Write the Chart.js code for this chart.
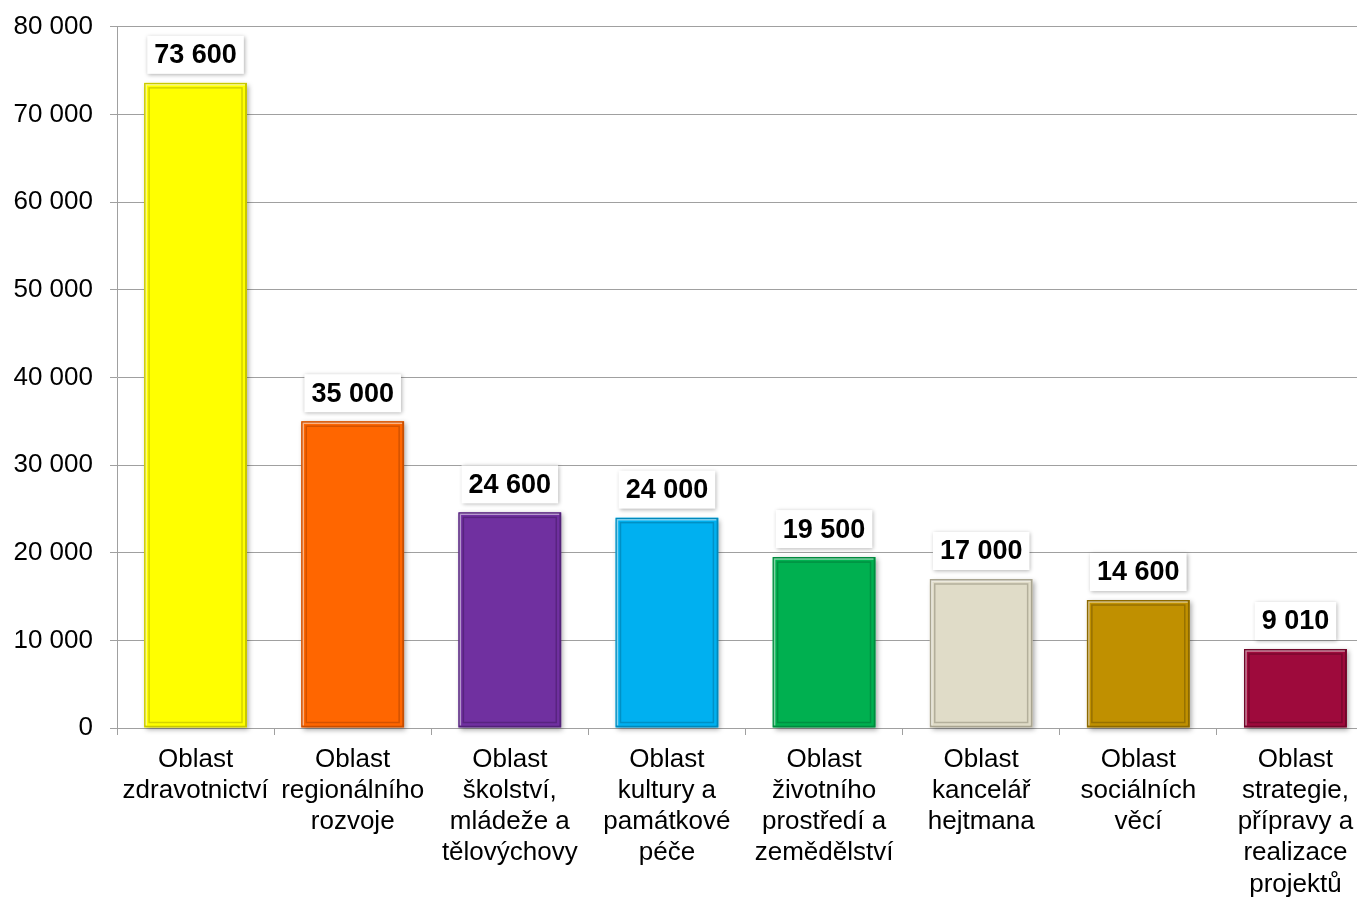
<!DOCTYPE html>
<html lang="cs">
<head>
    <meta charset="UTF-8">
    <title>Oblasti</title>
    <script src="https://cdn.jsdelivr.net/npm/chart.js"></script>
    <style>
        html, body {
            margin: 0;
            padding: 0;
            background: #ffffff;
            overflow: hidden;
        }
        #wrap {
            width: 1380px;
            height: 897px;
        }
    </style>
</head>
<body>
    <div id="wrap">
        <canvas id="chart" width="1380" height="897"></canvas>
    </div>
    <script>
        const categories = [
            ['Oblast', 'zdravotnictví'],
            ['Oblast', 'regionálního', 'rozvoje'],
            ['Oblast', 'školství,', 'mládeže a', 'tělovýchovy'],
            ['Oblast', 'kultury a', 'památkové', 'péče'],
            ['Oblast', 'životního', 'prostředí a', 'zemědělství'],
            ['Oblast', 'kancelář', 'hejtmana'],
            ['Oblast', 'sociálních', 'věcí'],
            ['Oblast', 'strategie,', 'přípravy a', 'realizace', 'projektů']
        ];
        const values = [73600, 35000, 24600, 24000, 19500, 17000, 14600, 9010];
        const barColors = ['#FFFF00', '#FF6600', '#7030A0', '#00B0F0', '#00B050', '#E0DCC8', '#C09000', '#9E0A3C'];
        const edgeColors = ['#C8C800', '#C84E00', '#522278', '#0088BA', '#008A3E', '#A8A490', '#8C6900', '#70072A'];

        function fmt(v) {
            return String(Math.round(v)).replace(/\B(?=(\d{3})+(?!\d))/g, ' ');
        }

        // bevel + shadow look of the bars
        const bevelPlugin = {
            id: 'bevel',
            beforeDatasetsDraw(chart) {
                const ctx = chart.ctx;
                ctx.save();
                chart.getDatasetMeta(0).data.forEach((bar, i) => {
                    const w = bar.width;
                    ctx.shadowColor = 'rgba(0,0,0,0.35)';
                    ctx.shadowBlur = 5;
                    ctx.shadowOffsetX = 2;
                    ctx.shadowOffsetY = 2;
                    ctx.fillStyle = barColors[i];
                    ctx.fillRect(bar.x - w / 2, bar.y, w, bar.base - bar.y);
                });
                ctx.restore();
            },
            afterDatasetsDraw(chart) {
                const ctx = chart.ctx;
                ctx.save();
                chart.getDatasetMeta(0).data.forEach((bar, i) => {
                    const w = bar.width;
                    const l = bar.x - w / 2, r = bar.x + w / 2;
                    const t = bar.y, b = bar.base;
                    const ins = 5;
                    ctx.lineWidth = 1.5;
                    ctx.strokeStyle = edgeColors[i];
                    ctx.globalAlpha = 0.8;
                    ctx.strokeRect(l + ins, t + ins, w - 2 * ins, b - t - 2 * ins);
                    ctx.globalAlpha = 0.5;
                    ctx.strokeStyle = '#ffffff';
                    ctx.beginPath();
                    ctx.moveTo(l + 2, b - 2);
                    ctx.lineTo(l + 2, t + 2);
                    ctx.lineTo(r - 2, t + 2);
                    ctx.stroke();
                });
                ctx.restore();
            }
        };

        // white value boxes above bars
        const labelPlugin = {
            id: 'valueBoxes',
            afterDatasetsDraw(chart) {
                const ctx = chart.ctx;
                ctx.save();
                ctx.font = 'bold 27px "Liberation Sans", Arial, sans-serif';
                ctx.textAlign = 'center';
                ctx.textBaseline = 'middle';
                chart.getDatasetMeta(0).data.forEach((bar, i) => {
                    const txt = fmt(values[i]);
                    const tw = ctx.measureText(txt).width;
                    const cy = bar.y - 28;
                    const bw = tw + 14, bh = 38;
                    ctx.shadowColor = 'rgba(0,0,0,0.3)';
                    ctx.shadowBlur = 4;
                    ctx.shadowOffsetX = 1;
                    ctx.shadowOffsetY = 1;
                    ctx.fillStyle = '#ffffff';
                    ctx.fillRect(bar.x - bw / 2, cy - bh / 2, bw, bh);
                    ctx.shadowColor = 'transparent';
                    ctx.fillStyle = '#000000';
                    ctx.fillText(txt, bar.x, cy + 1);
                });
                ctx.restore();
            }
        };

        const ctx = document.getElementById('chart').getContext('2d');
        new Chart(ctx, {
            type: 'bar',
            data: {
                labels: categories,
                datasets: [{
                    data: values,
                    backgroundColor: barColors,
                    borderColor: edgeColors,
                    borderWidth: 2,
                    borderSkipped: false,
                    barPercentage: 0.655,
                    categoryPercentage: 1.0
                }]
            },
            options: {
                responsive: false,
                animation: false,
                layout: { padding: { top: 0, right: 6, bottom: 0, left: 0 } },
                plugins: {
                    legend: { display: false },
                    tooltip: { enabled: false }
                },
                scales: {
                    x: {
                        afterFit(scale) { scale.height = 169; },
                        grid: {
                            display: true,
                            drawOnChartArea: false,
                            drawTicks: true,
                            tickLength: 7,
                            color: '#a0a0a0',
                            offset: true
                        },
                        border: { color: '#a0a0a0', width: 1 },
                        ticks: {
                            color: '#000000',
                            padding: 9,
                            maxRotation: 0,
                            autoSkip: false,
                            font: { family: '"Liberation Sans", Arial, sans-serif', size: 26, lineHeight: 1.2 }
                        }
                    },
                    y: {
                        min: 0,
                        max: 80000,
                        afterFit(scale) { scale.width = 117; },
                        ticks: {
                            stepSize: 10000,
                            color: '#000000',
                            padding: 17,
                            font: { family: '"Liberation Sans", Arial, sans-serif', size: 26, lineHeight: 0.75 },
                            callback: (v) => fmt(v)
                        },
                        grid: {
                            color: '#a0a0a0',
                            lineWidth: 1,
                            tickLength: 7
                        },
                        border: { color: '#a0a0a0', width: 1 }
                    }
                }
            },
            plugins: [bevelPlugin, labelPlugin]
        });
    </script>
</body>
</html>
